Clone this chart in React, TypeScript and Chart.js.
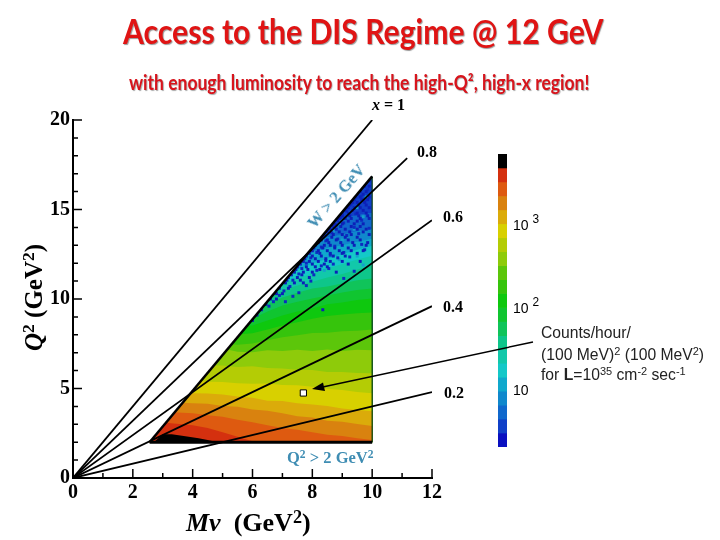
import { useEffect, useRef } from "react"
import { Chart, registerables } from "chart.js"

Chart.register(...registerables)

// x scaling lines, Q2 = 2 x Mv
const LINE_X_END = [10, 11.17, 12, 12, 12]
const LINE_Y_END = [20, 17.87, 14.4, 9.6, 4.8]

// colour bar, top to bottom
const BAR_COLORS = [
  "#000000", "#d4300f", "#de5a10", "#d9820f", "#dbab0a", "#d8d000", "#b4cc05",
  "#8ecb0a", "#5cc60a", "#36c40c", "#0ec80e", "#10c530", "#10c45a", "#0ec68a",
  "#12c8aa", "#14c8c8", "#10a8cc", "#1088cc", "#1068cc", "#1040c8", "#0a10c0",
]
const BAR_EDGES = [
  6776, 4603, 3126, 2123, 1442, 979, 665, 452, 307, 208, 142, 96, 65, 44, 30,
  20.5, 13.9, 9.44, 6.41, 4.36, 2.96, 2.01,
]

// upper Q2 limit of each colour level, read at these Mv columns
const HEAT_COLS = [2, 3, 4, 4.5, 5, 5.5, 6, 6.5, 7, 7.5, 8, 8.5, 9, 9.5, 10]
const HEAT_LIMITS = [
  [3.3, 3.1, 2.95, 2.8, 2.56, 2.3, 2.05, 2, 2, 2, 2, 2, 2, 2, 2],
  [3.8, 3.7, 3.62, 3.5, 3.42, 3.25, 3.12, 2.95, 2.8, 2.7, 2.55, 2.42, 2.35, 2.22, 2.12],
  [4.3, 4.25, 4.18, 4.15, 4.02, 3.98, 3.82, 3.76, 3.62, 3.45, 3.38, 3.2, 3.14, 3.02, 2.9],
  [4.85, 4.8, 4.74, 4.72, 4.66, 4.55, 4.48, 4.32, 4.3, 4.18, 4.1, 4.02, 3.88, 3.8, 3.73],
  [5.6, 5.5, 5.46, 5.38, 5.36, 5.3, 5.26, 5.28, 5.2, 5.18, 5.1, 4.98, 4.92, 4.8, 4.74],
  [6.4, 6.3, 6.24, 6.3, 6.28, 6.2, 6.24, 6.15, 6.12, 6.05, 6.04, 5.92, 5.92, 5.86, 5.85],
  [7.1, 7.1, 7.13, 7.2, 7.24, 7.05, 7.02, 7.14, 7.1, 7.16, 7.1, 7.18, 7.1, 7.16, 7.13],
  [7.6, 7.65, 7.7, 7.6, 7.5, 7.45, 7.52, 7.7, 7.86, 7.98, 8.1, 8.12, 8.2, 8.22, 8.3],
  [8, 8, 8, 8, 8, 8.02, 8.08, 8.3, 8.52, 8.7, 8.9, 9.05, 9.14, 9.2, 9.25],
  [8.3, 8.3, 8.3, 8.3, 8.4, 8.45, 8.52, 8.8, 9.08, 9.3, 9.47, 9.7, 9.81, 9.95, 10.03],
  [8.7, 8.7, 8.7, 8.7, 8.8, 8.85, 8.91, 9.3, 9.64, 9.85, 10.03, 10.2, 10.36, 10.5, 10.58],
  [9.1, 9.1, 9.1, 9.1, 9.2, 9.3, 9.36, 9.7, 10.08, 10.35, 10.58, 10.7, 10.86, 11.05, 11.14],
  [9.5, 9.5, 9.5, 9.5, 9.6, 9.7, 9.75, 10.1, 10.47, 10.75, 10.97, 11.2, 11.4, 11.65, 11.87],
  [9.9, 9.9, 9.9, 9.9, 10, 10.1, 10.14, 10.5, 10.86, 11.15, 11.42, 11.7, 11.95, 12.2, 12.42],
  [10.3, 10.3, 10.3, 10.3, 10.4, 10.5, 10.58, 10.95, 11.31, 11.65, 11.98, 12.25, 12.5, 12.75, 12.98],
  [10.8, 10.8, 10.8, 10.8, 10.9, 11, 11.03, 11.45, 11.87, 12.2, 12.59, 12.85, 13, 13.2, 13.37],
  [11.3, 11.3, 11.3, 11.3, 11.5, 11.55, 11.59, 12, 12.42, 12.8, 13.26, 13.45, 13.6, 13.8, 13.93],
  [12, 12, 12, 12, 12, 12.1, 12.14, 12.5, 12.98, 13.45, 14.09, 14.3, 14.5, 14.7, 14.82],
]

// kinematic limit W > 2 GeV and Q2 > 2 cut
const EDGE_X = [2.56, 10]
const EDGE_Y = [2, 16.85]
const OUTSIDE_X = [1.9, 2.5, 10, 10.1, 10.1, 1.9]
const OUTSIDE_Y = [1.88, 1.88, 16.85, 16.85, 18.2, 18.2]

const SATURATED_X = [2.7, 3.0, 3.3, 3.7, 4.2, 4.5, 4.85]
const SATURATED_Y = [2, 2.45, 2.45, 2.35, 2.22, 2.12, 2]

// low statistics cells at the top of the triangle, row by row
const DARK_ROW_Y = [
  16.6, 16.3, 16, 15.85, 15.7, 15.55, 15.4, 15.25, 15.1, 14.95, 14.8, 14.65, 14.5, 14.35, 14.2,
  14.05, 13.9, 13.75, 13.6, 13.45, 13.3, 13.15, 13, 12.85, 12.7, 12.55, 12.4, 12.25, 12.1, 11.95,
  11.8, 11.65, 11.5, 11.35, 11.2, 11.05, 10.9, 10.6, 10.3, 10, 9.7, 9.4, 9.1, 8.8,
]
const DARK_ROW_X = [
  [9.9], [9.75, 9.9], [9.6, 9.8], [9.5, 9.7], [9.45, 9.6, 9.9], [9.4, 9.65, 9.85], [9.35, 9.5, 9.75],
  [9.25, 9.55, 9.8], [9.2, 9.4, 9.6, 9.9], [9.1, 9.35, 9.7], [9.0, 9.2, 9.5, 9.8], [9.0, 9.25, 9.55, 9.85],
  [8.9, 9.1, 9.3, 9.6, 9.9], [8.85, 9.2, 9.5], [8.75, 9.0, 9.4, 9.7], [8.7, 8.95, 9.3, 9.6],
  [8.6, 8.8, 9.1, 9.5, 9.8], [8.5, 8.9, 9.25, 9.7], [8.4, 8.7, 9.0, 9.3, 9.9], [8.35, 8.65, 9.1, 9.5],
  [8.3, 8.5, 8.8, 9.2, 9.6], [8.2, 8.55, 8.95, 9.35, 9.85], [8.1, 8.4, 8.6, 9.0, 9.4, 9.8], [8.05, 8.35, 8.75, 9.2],
  [8.0, 8.2, 8.5, 8.9, 9.3, 9.7], [7.9, 8.25, 8.6, 9.0, 9.5], [7.8, 8.0, 8.3, 8.7, 9.1], [7.75, 8.1, 8.45],
  [7.7, 7.9, 8.2, 8.6, 9.0, 9.6], [7.6, 8.0, 8.4, 9.2], [7.5, 7.8, 8.1, 8.5], [7.45, 7.85, 8.25],
  [7.4, 7.7, 8.0, 8.8], [7.3, 7.65], [7.2, 7.5, 7.9], [7.15, 7.6], [7.1, 7.4, 7.7], [6.9, 7.2], [6.8, 7.0],
  [6.6, 6.8], [6.45], [6.3, 8.35], [6.15], [6.0],
]
const SCATTER_X = [
  9.85, 9.65, 9.5, 9.3, 9.75, 9.15, 9.45, 8.95, 9.65, 9.9, 8.8, 9.05, 9.4, 8.65, 8.85, 9.55, 8.45,
  8.75, 9.15, 9.75, 8.3, 8.6, 9.05, 9.65, 8.15, 8.45, 8.85, 9.25, 7.95, 8.3, 8.7, 9.4, 7.8, 8.15,
  8.55, 7.65, 8.05, 9.05, 7.55, 7.95, 7.35, 7.8, 7.25, 7.55, 7.05, 7.35, 6.9, 7.1, 6.7, 6.55,
]
const SCATTER_Y = [
  16.1, 15.75, 15.9, 15.3, 15.45, 14.9, 14.75, 14.55, 14.4, 13.95, 14.15, 14.25, 14.0, 13.7, 13.35, 13.65, 13.25,
  12.95, 13.55, 12.75, 12.9, 12.45, 12.6, 13.05, 12.6, 12.15, 12.3, 12.35, 12.3, 11.85, 11.95, 11.55, 12.0, 11.6,
  11.7, 11.7, 11.35, 11.15, 11.4, 11.0, 11.05, 10.75, 10.7, 10.35, 10.45, 10.15, 10.2, 9.85, 9.85, 9.6,
]
const LIGHT_X = [9.8, 9.5, 9.2, 9.7, 8.9, 9.4, 8.7, 9.0, 9.8, 8.4, 9.2, 8.6, 9.5, 8.1, 8.9, 9.7, 7.9, 8.4]
const LIGHT_Y = [15.7, 15.1, 14.8, 14.6, 14.2, 13.9, 13.8, 13.3, 13.2, 13.3, 12.9, 12.8, 12.4, 12.6, 12.2, 11.9, 12.2, 11.6]

const SQUARE_X = [7.7]
const SQUARE_Y = [4.75]

const pts = (xs: number[], ys: number[]) => xs.map((x, i) => ({ x, y: ys[i] }))

const polygon = (data: { x: number; y: number }[], color: string, order: number) => ({
  data,
  order,
  showLine: true,
  fill: "shape",
  backgroundColor: color,
  borderColor: "transparent",
  borderWidth: 0,
  pointRadius: 0,
})

const stroke = (data: { x: number; y: number }[], color: string, width: number, order: number) => ({
  data,
  order,
  showLine: true,
  fill: false,
  borderColor: color,
  borderWidth: width,
  pointRadius: 0,
})

const cells = (data: { x: number; y: number }[], color: string, order: number) => ({
  data,
  order,
  showLine: false,
  pointStyle: "rect",
  pointRadius: 2.1,
  pointBorderWidth: 0,
  pointBackgroundColor: color,
})

// chart.js has one tick length per scale, this plot has short and long ones pointing inwards
const innerTicks = {
  id: "innerTicks",
  afterDraw(chart: any) {
    const { ctx, scales } = chart
    const { x, y } = scales
    ctx.save()
    ctx.strokeStyle = "#000"
    ctx.lineWidth = 1.5
    ctx.beginPath()
    x.ticks.forEach((t: any) => {
      const px = x.getPixelForValue(t.value)
      ctx.moveTo(px, y.bottom)
      ctx.lineTo(px, y.bottom - (t.value % 2 === 0 ? 9 : 5))
    })
    y.ticks.forEach((t: any) => {
      const py = y.getPixelForValue(t.value)
      ctx.moveTo(x.left, py)
      ctx.lineTo(x.left + (t.value % 5 === 0 ? 9 : 5), py)
    })
    ctx.stroke()
    ctx.restore()
  },
}

const serif = "'Liberation Serif', serif"
const sans = "'Liberation Sans', sans-serif"

function Label(props: { x: number; y: number; style?: any; children: any }) {
  return (
    <div
      style={{
        position: "absolute",
        left: props.x,
        top: props.y,
        lineHeight: 1,
        whiteSpace: "nowrap",
        ...props.style,
      }}
    >
      {props.children}
    </div>
  )
}

const lineLabel = { fontFamily: serif, fontWeight: 700, fontSize: 16, color: "#000" }
const barLabel = { fontFamily: sans, fontSize: 14, color: "#000" }
const noteLabel = { fontFamily: sans, fontSize: 15.7, color: "#222" }
const cutLabel = { fontFamily: serif, fontWeight: 700, fontSize: 16.5, color: "#3f8db3" }
const supStyle = { fontSize: "0.7em", verticalAlign: "baseline", position: "relative", top: "-0.45em" } as const
const barSup = { ...supStyle, fontSize: "0.85em", top: "-0.55em" }

export default function App() {
  const plotRef = useRef<HTMLCanvasElement | null>(null)
  const barRef = useRef<HTMLCanvasElement | null>(null)

  useEffect(() => {
    if (!plotRef.current || !barRef.current) return

    const top = HEAT_COLS.length - 1
    const datasets: any[] = []

    // painted from the top level down, each one reaches down to the Q2 cut
    datasets.push(polygon(pts([2, 10, 10, 2], [2, 2, 18, 18]), BAR_COLORS[19], 200))
    HEAT_LIMITS.forEach((limit, k) => {
      const outline = pts(HEAT_COLS, limit)
      outline.push({ x: HEAT_COLS[top], y: 2 }, { x: HEAT_COLS[0], y: 2 })
      datasets.push(polygon(outline, BAR_COLORS[k + 1], 100 + k))
    })
    const dark = DARK_ROW_X.flatMap((xs, i) => xs.map((x) => ({ x, y: DARK_ROW_Y[i] })))
    datasets.push(cells(pts(LIGHT_X, LIGHT_Y), "#14a0cc", 60))
    datasets.push(cells(dark, "#0c20b8", 50))
    datasets.push(cells(pts(SCATTER_X, SCATTER_Y), "#0c2cc0", 50))
    datasets.push(polygon(pts(OUTSIDE_X, OUTSIDE_Y), "#ffffff", 40))
    datasets.push(polygon(pts(SATURATED_X, SATURATED_Y), "#000000", 30))
    datasets.push(stroke(pts(EDGE_X, EDGE_Y), "#000", 2.5, 20))
    datasets.push(stroke(pts([2.56, 10], [2, 2]), "#000", 3, 20))
    datasets.push(stroke(pts([10, 10], [2, 16.85]), "#0a3a10", 1.2, 20))
    LINE_X_END.forEach((x, i) => {
      datasets.push(stroke(pts([0, x], [0, LINE_Y_END[i]]), "#000", 1.8, 10))
    })
    datasets.push({
      data: pts(SQUARE_X, SQUARE_Y),
      order: 1,
      showLine: false,
      pointStyle: "rect",
      pointRadius: 4.4,
      pointBorderWidth: 1,
      pointBorderColor: "#000",
      pointBackgroundColor: "#fff",
    })

    const plot = new Chart(plotRef.current, {
      type: "scatter",
      data: { datasets },
      options: {
        animation: false,
        responsive: false,
        events: [],
        layout: {
          autoPadding: false,
          padding: { left: 0, top: 120, right: 288, bottom: 32 },
        },
        plugins: { legend: { display: false }, tooltip: { enabled: false } },
        scales: {
          x: {
            type: "linear",
            min: 0,
            max: 12,
            afterFit: (s: any) => { s.height = 30 },
            grid: { display: false, drawTicks: false },
            border: { color: "#000", width: 2 },
            ticks: {
              stepSize: 1,
              autoSkip: false,
              maxRotation: 0,
              padding: 3,
              color: "#000",
              font: { family: "'Liberation Serif'", size: 20, weight: "bold" },
              callback: (v: any) => (v % 2 === 0 ? String(v) : ""),
            },
          },
          y: {
            type: "linear",
            min: 0,
            max: 20,
            afterFit: (s: any) => { s.width = 73 },
            grid: { display: false, drawTicks: false },
            border: { color: "#000", width: 2 },
            ticks: {
              stepSize: 1,
              autoSkip: false,
              padding: 3,
              color: "#000",
              font: { family: "'Liberation Serif'", size: 20, weight: "bold" },
              callback: (v: any) => (v % 5 === 0 ? String(v) : ""),
            },
          },
        },
      },
      plugins: [innerTicks],
    } as any)

    const bar = new Chart(barRef.current, {
      type: "bar",
      data: {
        labels: ["counts"],
        datasets: BAR_COLORS.map((color, i) => ({
          data: [[BAR_EDGES[i + 1], BAR_EDGES[i]]],
          backgroundColor: color,
          barPercentage: 1,
          categoryPercentage: 1,
        })),
      },
      options: {
        animation: false,
        responsive: false,
        events: [],
        layout: { autoPadding: false, padding: { left: 18, top: 14, right: 33, bottom: 13 } },
        plugins: { legend: { display: false }, tooltip: { enabled: false } },
        scales: {
          x: { display: false, stacked: true },
          y: { display: false, type: "logarithmic", min: BAR_EDGES[21], max: BAR_EDGES[0] },
        },
      },
    } as any)

    return () => {
      plot.destroy()
      bar.destroy()
    }
  }, [])

  return (
    <div style={{ position: "relative", width: 720, height: 540, background: "#fff", overflow: "hidden" }}>
      <style>{`body { margin: 0; }`}</style>
      <canvas ref={plotRef} width={720} height={540} style={{ position: "absolute", left: 0, top: 0 }} />
      <canvas ref={barRef} width={60} height={320} style={{ position: "absolute", left: 480, top: 140 }} />

      <Label
        x={123}
        y={14}
        style={{
          fontFamily: "Lato",
          fontWeight: 700,
          fontSize: 34,
          color: "#e01414",
          textShadow: "1px 1px 1px #999",
          transform: "scaleX(0.887)",
          transformOrigin: "left center",
        }}
      >
        Access to the DIS Regime @ 12 GeV
      </Label>
      <Label
        x={129}
        y={72}
        style={{
          fontFamily: "Lato",
          fontWeight: 700,
          fontSize: 20,
          color: "#d8141c",
          textShadow: "1px 1px 1px #aaa",
          transform: "scaleX(0.876)",
          transformOrigin: "left center",
        }}
      >
        with enough luminosity to reach the high-Q², high-x region!
      </Label>

      <Label x={372} y={97} style={lineLabel}><i>x</i> = 1</Label>
      <Label x={417} y={144} style={lineLabel}>0.8</Label>
      <Label x={443} y={209} style={lineLabel}>0.6</Label>
      <Label x={443} y={299} style={lineLabel}>0.4</Label>
      <Label x={444} y={385} style={lineLabel}>0.2</Label>

      <Label x={311} y={218} style={{ ...cutLabel, transform: "rotate(-49deg)", transformOrigin: "left center" }}>
        W &gt; 2 GeV
      </Label>
      <Label x={287} y={450} style={cutLabel}>
        Q<span style={supStyle}>2</span> &gt; 2 GeV<span style={supStyle}>2</span>
      </Label>

      <Label x={186} y={510} style={{ fontFamily: serif, fontWeight: 700, fontSize: 26 }}>
        <i>Mν</i>&nbsp;&nbsp;(GeV<span style={supStyle}>2</span>)
      </Label>
      <Label
        x={21}
        y={351}
        style={{
          fontFamily: serif,
          fontWeight: 700,
          fontSize: 25,
          transform: "rotate(-90deg)",
          transformOrigin: "left top",
        }}
      >
        <i>Q</i><span style={supStyle}>2</span>&nbsp;(GeV<span style={supStyle}>2</span>)
      </Label>

      <Label x={513} y={218} style={barLabel}>10 <span style={barSup}>3</span></Label>
      <Label x={513} y={301} style={barLabel}>10 <span style={barSup}>2</span></Label>
      <Label x={513} y={383} style={barLabel}>10</Label>

      <Label x={541} y={325} style={noteLabel}>Counts/hour/</Label>
      <Label x={541} y={347} style={noteLabel}>(100 MeV)<span style={supStyle}>2</span> (100 MeV<span style={supStyle}>2</span>)</Label>
      <Label x={541} y={367} style={noteLabel}>
        for <b>L</b>=10<span style={supStyle}>35</span> cm<span style={supStyle}>-2</span> sec<span style={supStyle}>-1</span>
      </Label>

      <svg width={720} height={540} style={{ position: "absolute", left: 0, top: 0, pointerEvents: "none" }}>
        <line x1={533} y1={342} x2={318} y2={388} stroke="#000" strokeWidth={1.5} />
        <polygon points="312,389 323,382.5 325,391" fill="#000" />
      </svg>
    </div>
  )
}
